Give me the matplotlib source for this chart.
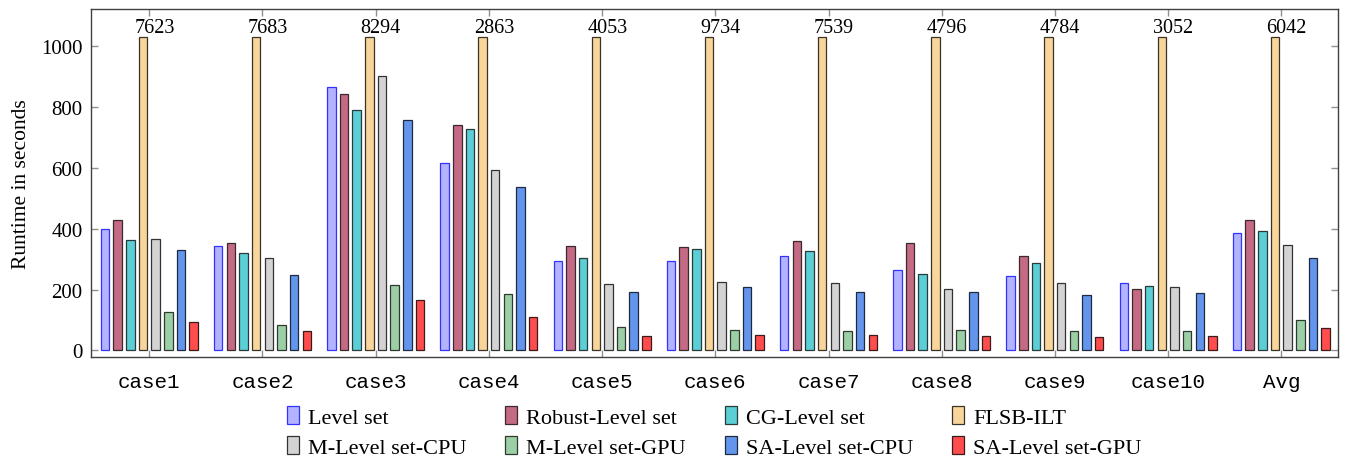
import matplotlib
matplotlib.use("Agg")
import matplotlib.pyplot as plt
import numpy as np

categories = ["case1", "case2", "case3", "case4", "case5", "case6",
              "case7", "case8", "case9", "case10", "Avg"]
series_names = ["Level set", "Robust-Level set", "CG-Level set", "FLSB-ILT",
                "M-Level set-CPU", "M-Level set-GPU", "SA-Level set-CPU", "SA-Level set-GPU"]

level_set = [399, 344, 868, 618, 293, 295, 309, 263, 243, 223, 385]
robust_level_set = [429, 352, 842, 740, 342, 339, 359, 352, 312, 202, 428]
cg_level_set = [363, 321, 792, 728, 303, 332, 327, 252, 288, 213, 391]
flsb_ilt = [7623, 7683, 8294, 2863, 4053, 9734, 7539, 4796, 4784, 3052, 6042]
m_level_set_cpu = [367, 305, 903, 592, 219, 224, 220, 201, 220, 207, 345]
m_level_set_gpu = [125, 82, 216, 185, 77, 66, 65, 68, 64, 65, 101]
sa_level_set_cpu = [329, 247, 758, 536, 191, 208, 192, 191, 183, 188, 303]
sa_level_set_gpu = [94, 65, 166, 111, 47, 49, 49, 47, 44, 48, 72]

series = [level_set, robust_level_set, cg_level_set, flsb_ilt,
          m_level_set_cpu, m_level_set_gpu, sa_level_set_cpu, sa_level_set_gpu]

fills = ["#b3b3ff", "#c56a84", "#5bcfd5", "#f7d59b",
         "#d3d3d3", "#9ccfa6", "#6495ed", "#ff4d4d"]
edges = ["#3333ff", "#3a2a2e", "#2a3a3a", "#3a3428",
         "#333333", "#2e3a30", "#1e2a40", "#3a1a1a"]

display_cap = 1030  # tall bars are clipped at this height

plt.rcParams["font.family"] = ["Liberation Serif", "DejaVu Serif"]

fig = plt.figure(figsize=(13.46, 4.6), dpi=100)
ax = fig.add_axes([0.0676, 0.2217, 0.9264, 0.7565])

x = np.arange(len(categories))
n = len(series)
pitch = 0.1118
width = 0.075
handles = []
for i, (vals, fc, ec, name) in enumerate(zip(series, fills, edges, series_names)):
    offs = (i - (n - 1) / 2) * pitch
    h = np.minimum(np.array(vals, dtype=float), display_cap)
    b = ax.bar(x + offs, h, width=width, color=fc, edgecolor=ec,
               linewidth=0.9, label=name, zorder=3)
    handles.append(b)

for xi, v in zip(x, flsb_ilt):
    ax.text(xi + 0.045, 1046, f"{v}", ha="center", va="baseline", fontsize=14.5)

ax.set_xlim(-0.515, 10.5)
ax.set_ylim(-22, 1123)
ax.set_yticks([0, 200, 400, 600, 800, 1000])
ax.set_yticklabels(["0", "200", "400", "600", "800", "1000"], fontsize=15)
ax.set_xticks(x)
ax.set_xticklabels(categories, fontsize=15, family=["Liberation Mono", "DejaVu Sans Mono"])
ax.tick_params(axis="both", direction="in", length=5, color="#909090",
               top=True, right=True, width=1)
ax.tick_params(axis="x", pad=11)
ax.tick_params(axis="y", pad=6)
for s in ax.spines.values():
    s.set_color("#404040")
    s.set_linewidth(1.0)
ax.set_ylabel("Runtime in seconds", fontsize=15.5, labelpad=7)

# row-major legend order (matplotlib fills legend columns first)
order = [0, 4, 1, 5, 2, 6, 3, 7]
leg = fig.legend(handles=[handles[k] for k in order],
                 labels=[series_names[k] for k in order],
                 loc="lower center", bbox_to_anchor=(0.5305, -0.022),
                 ncol=4, frameon=False, fontsize=16, handlelength=0.55,
                 handleheight=0.85, handletextpad=0.4, columnspacing=1.75,
                 labelspacing=0.38, borderaxespad=0.1)

fig.savefig("out.png", dpi=100)
